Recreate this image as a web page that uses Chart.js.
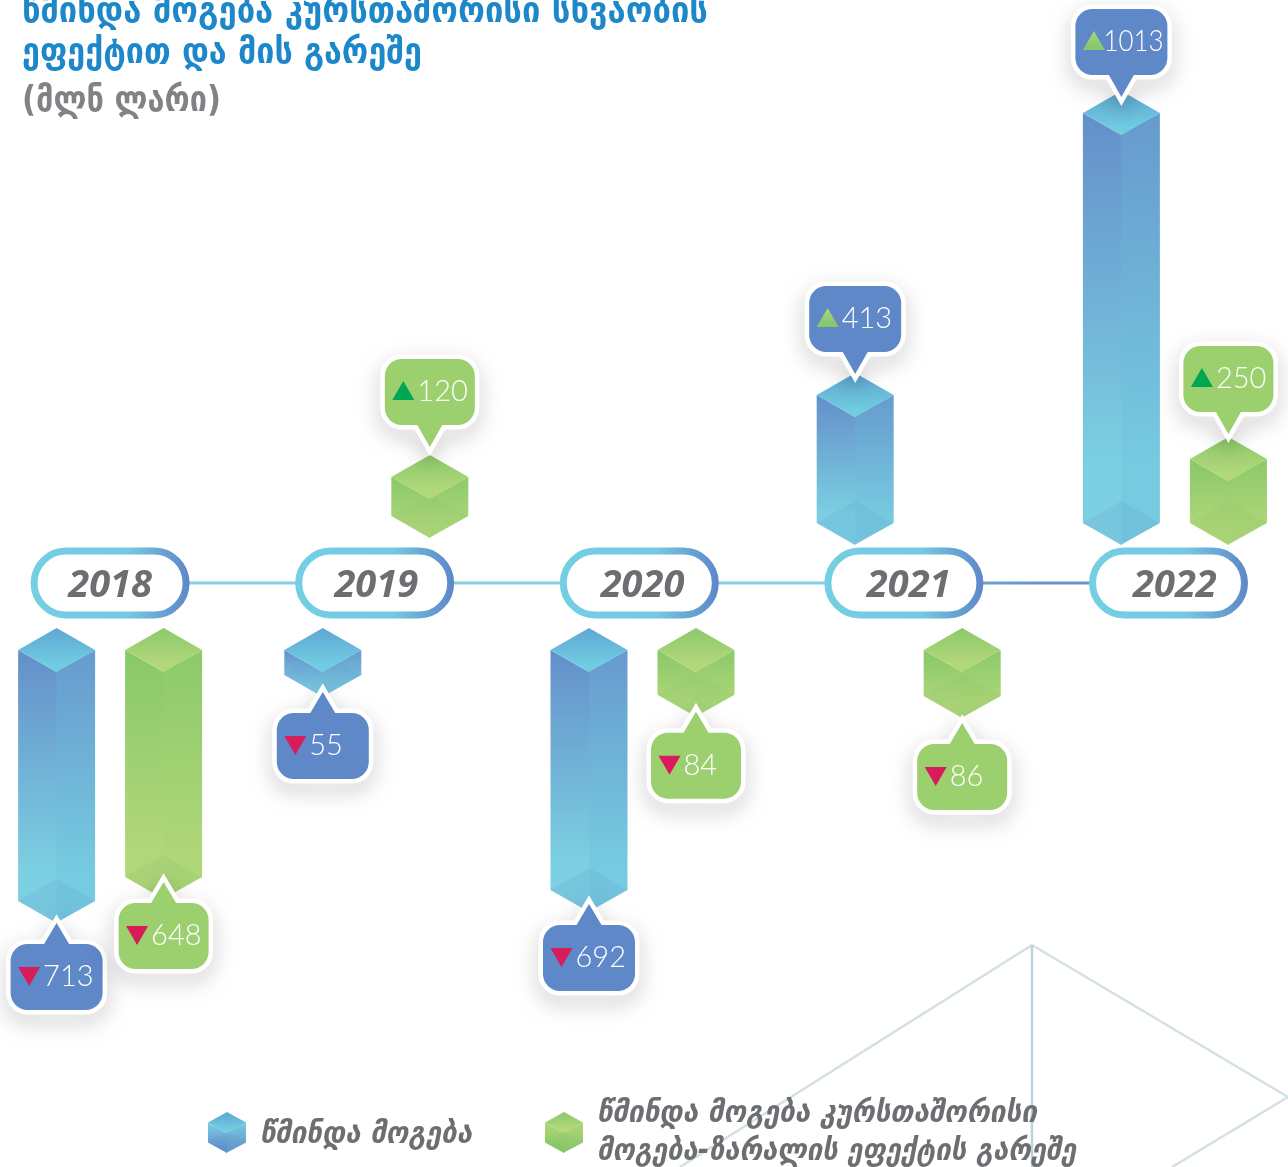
<!DOCTYPE html>
<html lang="ka">
<head>
<meta charset="utf-8">
<title>წმინდა მოგება</title>
<script src="https://cdn.jsdelivr.net/npm/chart.js@4/dist/chart.umd.min.js"></script>
<style>
html,body{margin:0;padding:0;background:#fff;width:1288px;height:1167px;overflow:hidden}
#wrap{position:absolute;left:-23px;top:0;width:1331px;height:1167px}
</style>
</head>
<body>
<div id="wrap"><canvas id="c" width="1331" height="1167"></canvas></div>
<script>
const years = ['2018', '2019', '2020', '2021', '2022'];
const netProfit = [-713, -55, -692, 413, 1013];
const netProfitExFx = [-648, 120, -84, -86, 250];
const seriesNames = ['წმინდა მოგება', 'წმინდა მოგება კურსთაშორისი მოგება-ზარალის ეფექტის გარეშე'];
const legendLines = [['წმინდა მოგება'], ['წმინდა მოგება კურსთაშორისი', 'მოგება-ზარალის ეფექტის გარეშე']];
const titleLines = ['წმინდა მოგება კურსთაშორისი სხვაობის', 'ეფექტით და მის გარეშე'];
const unitLine = '(მლნ ლარი)';

// The infographic's vertical axis is not linear: value -> pixel bends.
class BentScale extends Chart.LinearScale {
  static id = 'bent';
  static defaults = Chart.LinearScale.defaults;
  getPixelForValue(v) {
    const s = this.options.stops;
    if (v <= s[0][0]) return s[0][1];
    for (let i = 1; i < s.length; i++) {
      if (v <= s[i][0]) {
        const t = (v - s[i-1][0]) / (s[i][0] - s[i-1][0]);
        return s[i-1][1] + t * (s[i][1] - s[i-1][1]);
      }
    }
    return s[s.length-1][1];
  }
  getValueForPixel(p) {
    const s = this.options.stops;
    for (let i = 1; i < s.length; i++) {
      if (p >= s[i][1]) {
        const t = (p - s[i-1][1]) / (s[i][1] - s[i-1][1]);
        return s[i-1][0] + t * (s[i][0] - s[i-1][0]);
      }
    }
    return s[s.length-1][0];
  }
}
Chart.register(BentScale);

const palette = [
  { left:['#648FCA','#7CD0E2'], right:['#679ACE','#76CBE0'], cap:['#5FA6D4','#70CCE0'], low:'rgba(96,150,208,.16)', bubble:'#5F88C8', up:['#AFD675','#86C86A'], bw:92 },
  { left:['#88C868','#B2D77B'], right:['#8CCA6A','#AFD679'], cap:['#8CC96B','#B2D87A'], low:'rgba(130,195,100,.16)', bubble:'#9CCF6E', up:['#00A651','#00A651'], bw:90 }
];

function poly(ctx, pts) {
  ctx.beginPath();
  pts.forEach((p, i) => i ? ctx.lineTo(p[0], p[1]) : ctx.moveTo(p[0], p[1]));
  ctx.closePath();
}
function vGrad(ctx, y0, y1, c) {
  const g = ctx.createLinearGradient(0, y0, 0, y1);
  g.addColorStop(0, c[0]); g.addColorStop(.82, c[1]); g.addColorStop(1, c[1]);
  return g;
}
function prism(ctx, x, top, bot, w, d, col) {
  const L = x - w, R = x + w;
  ctx.fillStyle = vGrad(ctx, top + d, bot, col.right);
  poly(ctx, [[R, top+d],[x-1, top+2*d],[x-1, bot],[R, bot-d]]); ctx.fill();
  ctx.fillStyle = vGrad(ctx, top + d, bot, col.left);
  poly(ctx, [[L, top+d],[x, top+2*d],[x, bot],[L, bot-d]]); ctx.fill();
  ctx.fillStyle = col.low;
  poly(ctx, [[x, bot-2*d],[R, bot-d],[x, bot],[L, bot-d]]); ctx.fill();
  ctx.fillStyle = vGrad(ctx, top, top + 2*d, col.cap);
  poly(ctx, [[x, top],[R, top+d],[x, top+2*d],[L, top+d]]); ctx.fill();
}
function bubblePath(ctx, l, t, w, h, r, apexX, apexY, half) {
  const b = t + h, rt = l + w;
  ctx.beginPath();
  ctx.moveTo(l + r, t);
  if (apexY < t) { ctx.lineTo(apexX - half, t); ctx.lineTo(apexX, apexY); ctx.lineTo(apexX + half, t); }
  ctx.arcTo(rt, t, rt, t + r, r);
  ctx.arcTo(rt, b, rt - r, b, r);
  if (apexY > b) { ctx.lineTo(apexX + half, b); ctx.lineTo(apexX, apexY); ctx.lineTo(apexX - half, b); }
  ctx.arcTo(l, b, l, b - r, r);
  ctx.arcTo(l, t, l + r, t, r);
  ctx.closePath();
}
function bubble(ctx, x, edge, value, col, opt, nudge) {
  const W = col.bw, H = opt.bubbleH, l = x - W/2;
  const neg = value < 0;
  const top = neg ? edge + opt.bubbleGap + nudge : edge - opt.bubbleGap - H + nudge;
  const apexY = neg ? top - 21 : top + H + 22;
  ctx.save();
  ctx.lineJoin = 'miter'; ctx.miterLimit = 6;
  ctx.shadowColor = 'rgba(0,0,0,.24)'; ctx.shadowBlur = 20; ctx.shadowOffsetY = 8;
  bubblePath(ctx, l, top, W, H, 17, x, apexY, 12.5);
  ctx.strokeStyle = '#fff'; ctx.lineWidth = 9; ctx.stroke();
  ctx.shadowColor = 'transparent';
  ctx.fillStyle = col.bubble; ctx.fill();
  // direction marker
  const tl = l + 7.5, tw = 22, cy = top + H/2 - 1;
  if (neg) {
    ctx.fillStyle = '#D81B5A';
    poly(ctx, [[tl, cy-9],[tl+tw, cy-9],[tl+tw/2, cy+10]]);
  } else {
    ctx.fillStyle = vGrad(ctx, cy-10, cy+9, col.up);
    poly(ctx, [[tl, cy+9],[tl+tw, cy+9],[tl+tw/2, cy-10]]);
  }
  ctx.fill();
  ctx.fillStyle = '#fff';
  ctx.font = '300 29px Lato, "Open Sans", sans-serif';
  ctx.textAlign = 'left'; ctx.textBaseline = 'alphabetic';
  const label = String(Math.abs(value));
  const tw2 = Math.min(ctx.measureText(label).width, 60);
  const tx = Math.min(tl + tw + 3, l + W - 4 - tw2);
  ctx.fillText(label, tx, cy + 10, 60);
  ctx.restore();
}
function pill(ctx, cx, textX, cy, label) {
  const w = 152, h = 64, l = cx - w/2, t = cy - h/2;
  ctx.save();
  ctx.fillStyle = '#fff';
  ctx.beginPath(); ctx.roundRect(l, t, w, h, h/2); ctx.fill();
  const g = ctx.createLinearGradient(l, 0, l + w, 0);
  g.addColorStop(0, '#74CFE3'); g.addColorStop(.62, '#74C8E0'); g.addColorStop(1, '#5F8ACA');
  ctx.strokeStyle = g; ctx.lineWidth = 7; ctx.stroke();
  ctx.fillStyle = '#6D6E71';
  ctx.font = 'italic 700 38px "Open Sans", "Liberation Sans", sans-serif';
  ctx.textAlign = 'center'; ctx.textBaseline = 'alphabetic';
  ctx.fillText(label, textX, cy + 14, 84);
  ctx.restore();
}

const prismPlugin = {
  id: 'prismPlugin',
  afterDatasetsDraw(chart, _a, opt) {
    const ctx = chart.ctx, xs = chart.scales.x;
    const ox = opt.canvasLeft;
    ctx.save();
    // background facets
    ctx.lineWidth = 2.5; ctx.strokeStyle = '#D3E0E4';
    [[[1055,945],[703,1167]], [[1055,945],[1311,1097]], [[1311,1097],[1195,1167]]].forEach(s => {
      ctx.beginPath(); ctx.moveTo(s[0][0], s[0][1]); ctx.lineTo(s[1][0], s[1][1]); ctx.stroke();
    });
    ctx.strokeStyle = '#BFD2DB';
    ctx.beginPath(); ctx.moveTo(1055,945); ctx.lineTo(1055,1167); ctx.stroke();

    // pill centres
    const centres = years.map((y, i) => xs.getPixelForTick(i));
    const pills = centres.map((c, i) => c - i * opt.pillDrift);
    // connectors
    for (let i = 0; i < pills.length - 1; i++) {
      const g = ctx.createLinearGradient(pills[i], 0, pills[i+1], 0);
      if (i < 3) { g.addColorStop(0, '#7DD2E4'); g.addColorStop(1, '#7DD2E4'); }
      else { g.addColorStop(0, '#6FB4D8'); g.addColorStop(.5, '#6A93CC'); g.addColorStop(1, '#6A93CC'); }
      ctx.strokeStyle = g; ctx.lineWidth = 3;
      ctx.beginPath(); ctx.moveTo(pills[i], opt.axisY); ctx.lineTo(pills[i+1], opt.axisY); ctx.stroke();
    }
    // prisms
    chart.data.datasets.forEach((ds, di) => {
      const meta = chart.getDatasetMeta(di);
      meta.data.forEach((el, i) => {
        const v = ds.data[i], col = palette[di];
        if (v < 0) {
          prism(ctx, el.x, opt.negTop, el.y, opt.halfW, opt.depth, col);
        } else {
          const bot = opt.posFloor - el.y < opt.cubeMin ? el.y + opt.cubeH : opt.posFloor;
          prism(ctx, el.x, el.y, bot, opt.halfW, opt.depth, col);
        }
      });
    });
    // pills
    pills.forEach((p, i) => pill(ctx, p, centres[i], opt.axisY, years[i]));
    // bubbles
    chart.data.datasets.forEach((ds, di) => {
      const meta = chart.getDatasetMeta(di);
      meta.data.forEach((el, i) => {
        bubble(ctx, el.x, el.y, ds.data[i], palette[di], opt, opt.nudges[di][i]);
      });
    });

    // heading
    ctx.textAlign = 'left'; ctx.textBaseline = 'alphabetic';
    ctx.fillStyle = '#1C87C9';
    ctx.font = '700 36px "DejaVu Sans", sans-serif';
    ctx.fillText(titleLines[0], 22 - ox, 22, 686);
    ctx.fillText(titleLines[1], 22 - ox, 63, 400);
    ctx.fillStyle = '#808285';
    ctx.fillText(unitLine, 22 - ox, 111, 199);

    // legend
    const cols = [{x:227, tx:260, w:[212]}, {x:564, tx:597, w:[440,479]}];
    cols.forEach((c, i) => {
      prism(ctx, c.x - ox, 1112, 1153, 19, 10.5, {...palette[i], left:[palette[i].left[1],palette[i].left[0]], right:[palette[i].right[1],palette[i].right[0]], cap:[palette[i].cap[0],palette[i].cap[1]]});
      ctx.fillStyle = '#6D6E71';
      ctx.font = 'italic 700 30px "DejaVu Sans", sans-serif';
      const lines = legendLines[i];
      const ys = lines.length === 1 ? [1143] : [1122, 1160];
      lines.forEach((t, j) => ctx.fillText(t, c.tx - ox, ys[j], c.w[j]));
    });
    ctx.restore();
  }
};

new Chart(document.getElementById('c'), {
  type: 'bar',
  data: {
    labels: years,
    datasets: [
      { label: seriesNames[0], data: netProfit, backgroundColor: 'transparent' },
      { label: seriesNames[1], data: netProfitExFx, backgroundColor: 'transparent' }
    ]
  },
  plugins: [prismPlugin],
  options: {
    responsive: false,
    animation: false,
    devicePixelRatio: 1,
    layout: { padding: 0 },
    categoryPercentage: 0.804,
    barPercentage: 0.72,
    plugins: {
      legend: { display: false },
      tooltip: { enabled: false },
      title: { display: false },
      prismPlugin: {
        canvasLeft: -23,
        axisY: 583,
        negTop: 628,
        posFloor: 545,
        cubeMin: 100,
        cubeH: 83,
        halfW: 38.5,
        depth: 22,
        pillDrift: 1.6,
        bubbleH: 66,
        bubbleGap: 16,
        nudges: [[5, 0, -3, -5, 0], [-12, -14, 0, 10, -9]]
      }
    },
    scales: {
      x: { display: false, grid: { display: false } },
      y: {
        type: 'bent', display: false, min: -713, max: 1013,
        stops: [[-713,923],[-692,912],[-648,899],[-86,718],[-55,697],[0,583],[120,455],[250,437],[413,373],[1013,91]]
      }
    }
  }
});
</script>
</body>
</html>
